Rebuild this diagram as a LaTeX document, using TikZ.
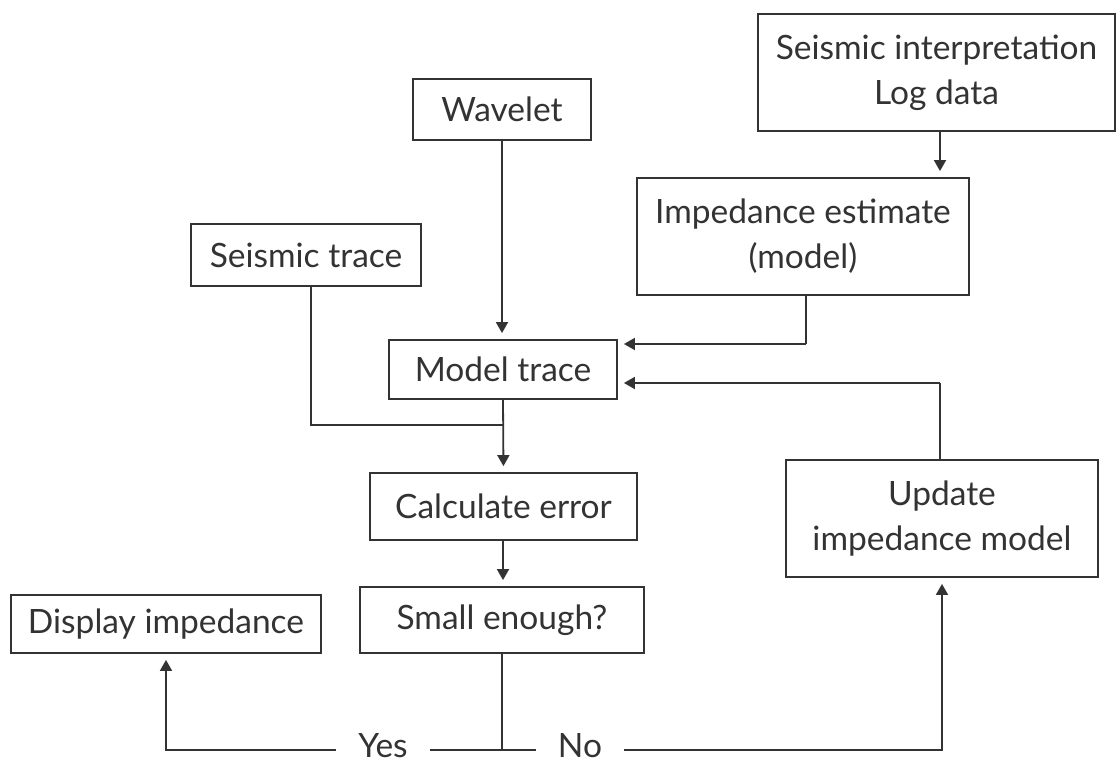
\documentclass[tikz,border=0pt]{standalone}
\usepackage{fontspec}
\setmainfont{Lato}
\usetikzlibrary{arrows.meta}
\definecolor{ink}{HTML}{333333}
\begin{document}
\begin{tikzpicture}[x=1pt,y=-1pt,
  box/.style={draw=ink,line width=1.8pt,text=ink,inner sep=0pt,align=center,
    font=\fontsize{33.5}{45}\selectfont},
  lbl/.style={text=ink,inner ysep=0pt,inner xsep=22pt,anchor=base,text depth=0pt,
    font=\fontsize{33.5}{45}\selectfont},
  link/.style={draw=ink,line width=1.8pt},
  arr/.style={link,-{Triangle[length=11pt,width=12pt]},shorten >=6pt}]
\useasboundingbox (0,0) rectangle (1119,763);
\node[box,minimum width=357pt,minimum height=117pt] (interp) at (936.5,72.5) {Seismic interpretation\\Log data};
\node[box,minimum width=178pt,minimum height=61pt] (wavelet) at (502,109.5) {Wavelet};
\node[box,minimum width=332pt,minimum height=117pt] (imped) at (803,236.5) {Impedance estimate\\(model)};
\node[box,minimum width=230pt,minimum height=62pt] (strace) at (306,255) {Seismic trace};
\node[box,minimum width=228pt,minimum height=59pt] (mtrace) at (503,369.5) {Model trace};
\node[box,minimum width=267pt,minimum height=67pt] (calc) at (503.5,506.5) {Calculate error};
\node[box,minimum width=312pt,minimum height=117pt] (update) at (942,518.5) {Update\\impedance model};
\node[box,minimum width=310pt,minimum height=58pt] (display) at (166,624) {Display impedance};
\node[box,minimum width=284pt,minimum height=66pt] (small) at (502,620) {Small enough?};
\node[lbl] (yes) at (383,757) {Yes};
\node[lbl] (no) at (580,757) {No};
\coordinate (junc) at (502,750);
\coordinate (a1) at (806,344);
\coordinate (a2) at (940,383);
\coordinate (s1) at (311,425);
\coordinate (j1) at (503,425);
% connectors
\draw[arr] (interp.south -| 940,0) -- (imped.north -| 940,0);
\draw[arr] (wavelet.south) -- (mtrace.north -| wavelet.south);
\draw[link] (imped.south -| a1) -- (a1);
\draw[arr] (a1) -- (a1 -| mtrace.east);
\draw[link] (update.north -| a2) -- (a2);
\draw[arr] (a2) -- (a2 -| mtrace.east);
\draw[link] (strace.south -| s1) -- (s1) -- (j1);
\draw[arr] (mtrace.south) -- (calc.north);
\draw[arr] (calc.south -| mtrace.south) -- (small.north -| mtrace.south);
\draw[link] (small.south) -- (junc);
\draw[link] (junc) -- (yes.east |- junc);
\draw[link] (junc) -- (no.west |- junc);
\draw[arr] (yes.west |- junc) -| (display.south);
\draw[arr] (no.east |- junc) -| (update.south);
\end{tikzpicture}
\end{document}
